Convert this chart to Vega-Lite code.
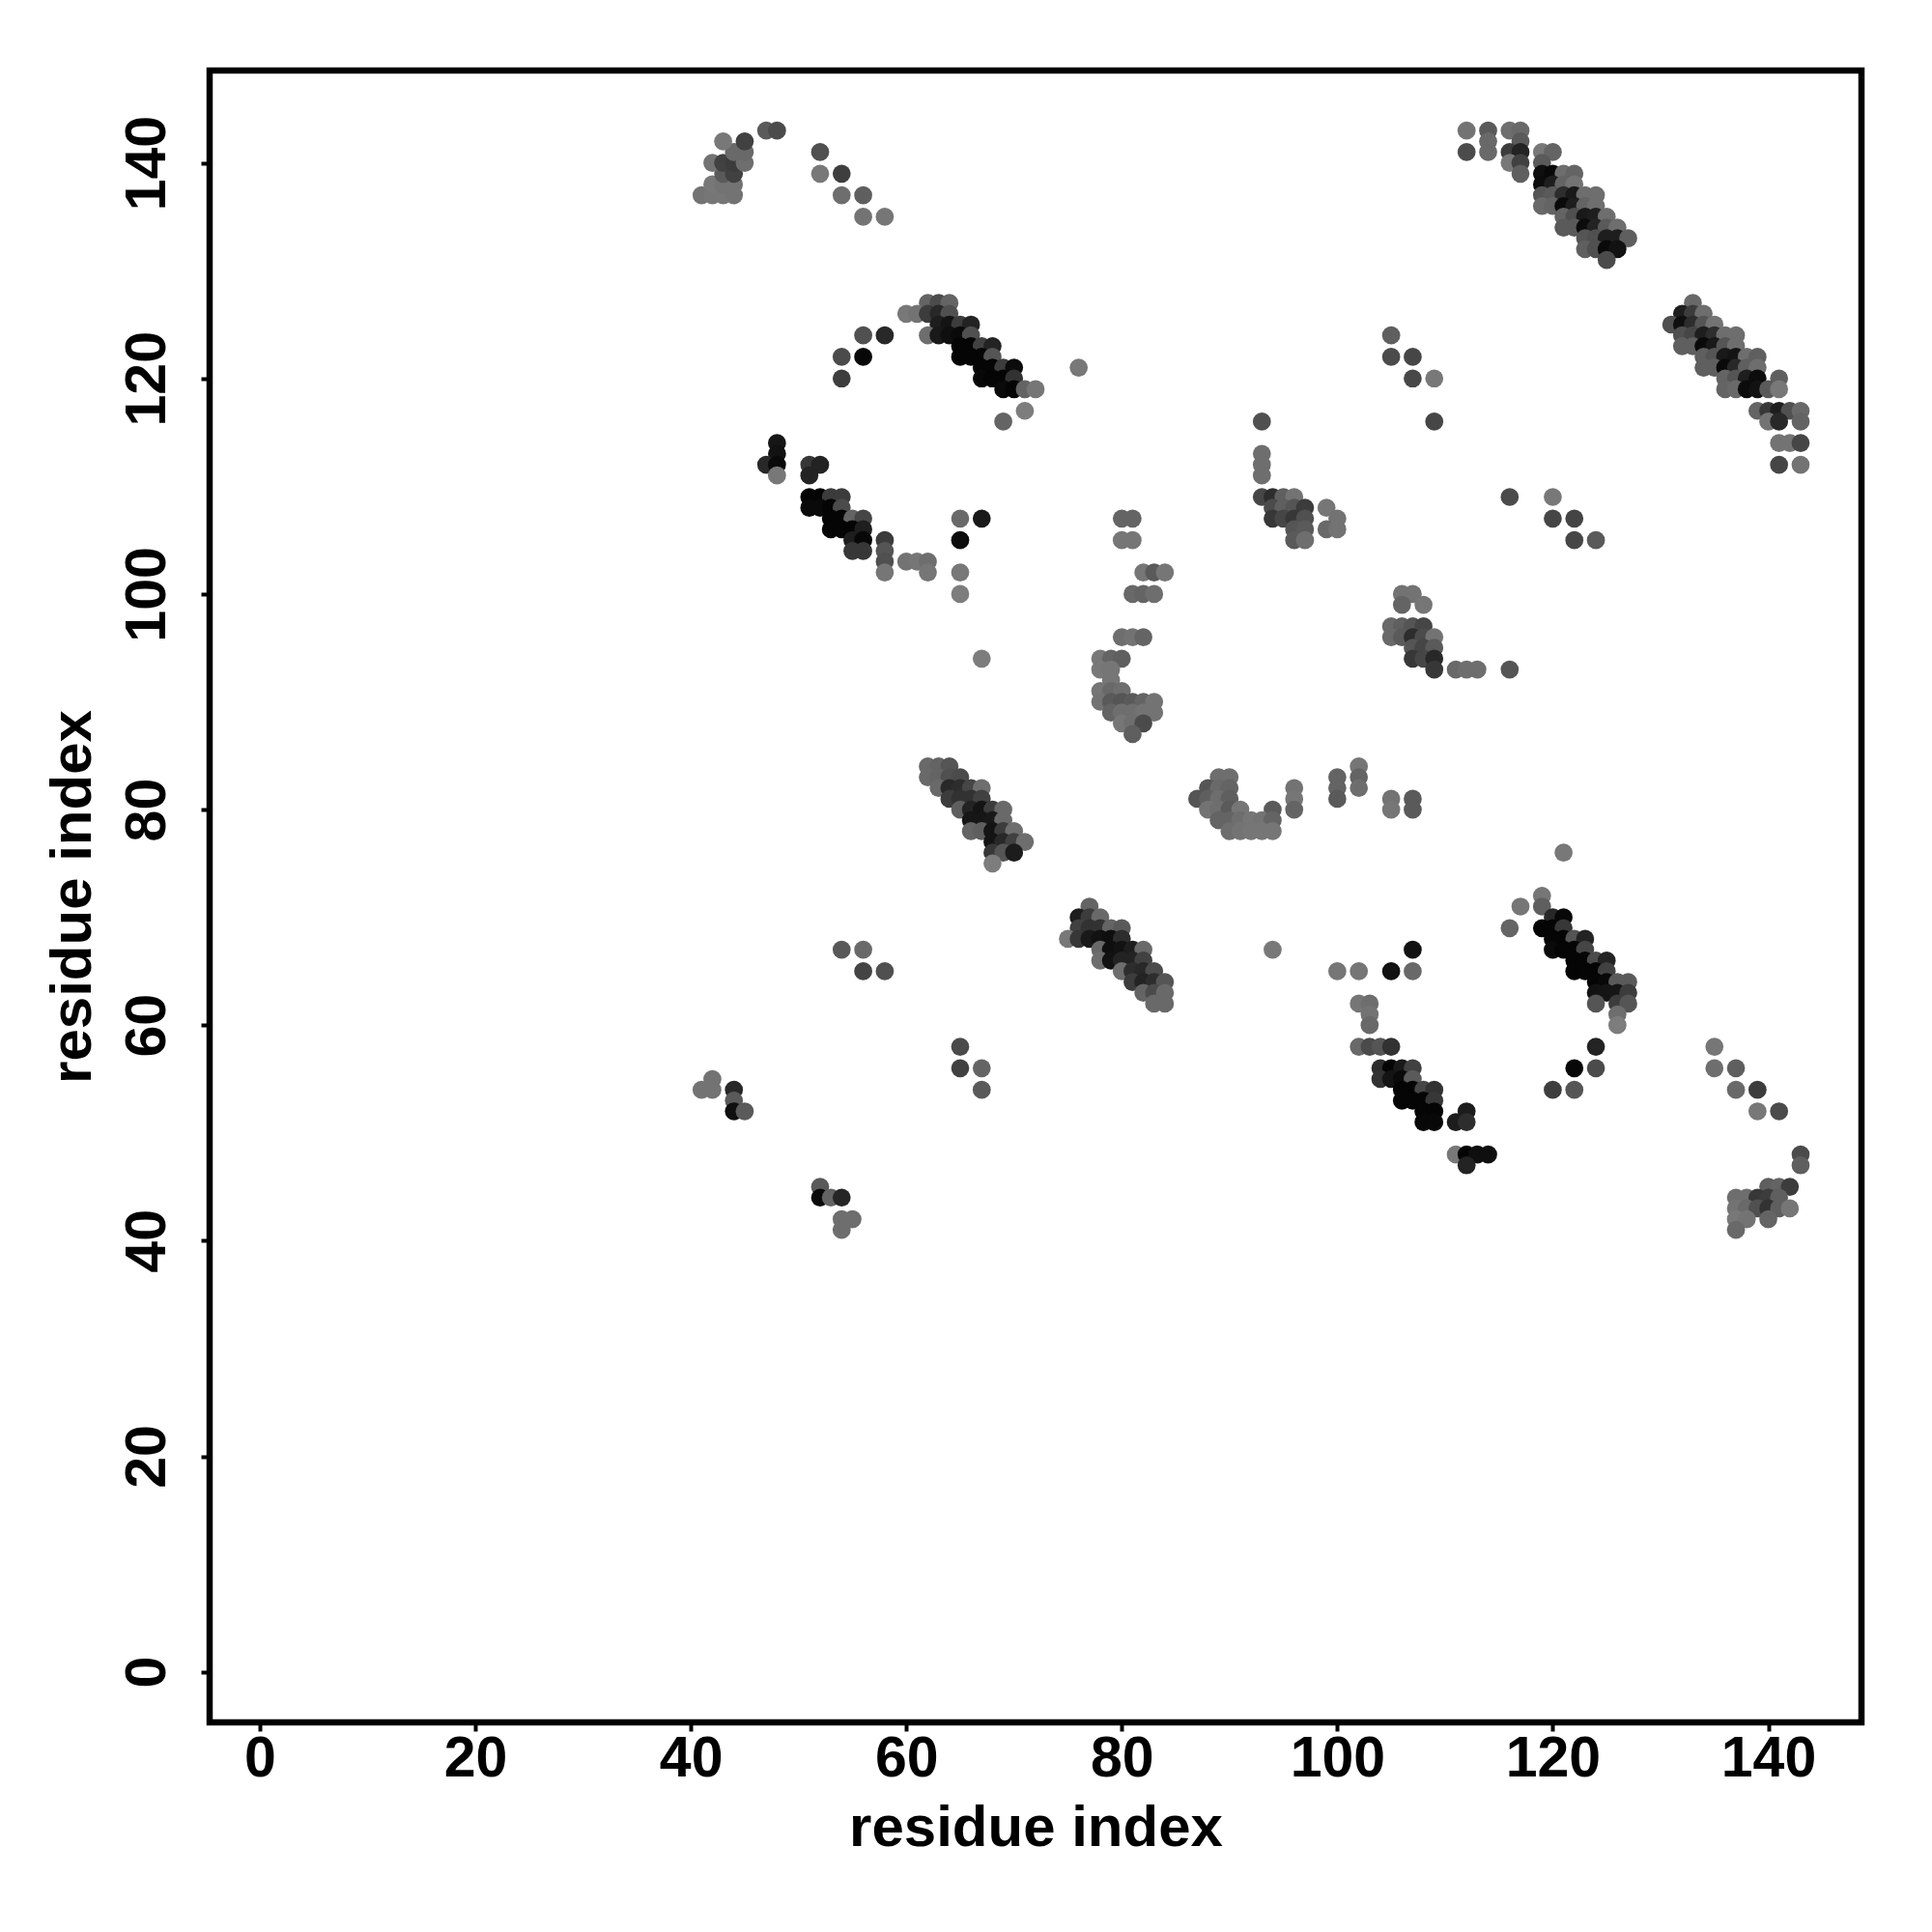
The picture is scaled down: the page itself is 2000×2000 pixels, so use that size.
{"$schema":"https://vega.github.io/schema/vega-lite/v6.json","width":1710,"height":1710,"autosize":"none","padding":{"left":217,"top":73,"right":73,"bottom":217},"background":"white","config":{"view":{"stroke":"#000","strokeWidth":6.5,"fill":"white"},"axis":{"grid":false,"domain":false,"ticks":true,"tickColor":"#000","tickWidth":4,"tickSize":9,"labelFont":"Liberation Sans","labelFontWeight":"bold","labelFontSize":59,"labelColor":"#000","titleFont":"Liberation Sans","titleFontWeight":"bold","titleFontSize":60,"titleColor":"#000"}},"data":{"values":[
{"x":41,"y":137,"g":115},{"x":42,"y":137,"g":118},{"x":43,"y":137,"g":118},{"x":44,"y":137,"g":115},{"x":42,"y":138,"g":120},{"x":43,"y":138,"g":115},{"x":44,"y":138,"g":115},{"x":43,"y":139,"g":90},{"x":44,"y":139,"g":65},{"x":42,"y":140,"g":115},{"x":43,"y":140,"g":65},{"x":44,"y":140,"g":60},{"x":45,"y":140,"g":110},{"x":44,"y":141,"g":105},{"x":45,"y":141,"g":105},{"x":43,"y":142,"g":120},{"x":45,"y":142,"g":65},{"x":47,"y":143,"g":90},{"x":48,"y":143,"g":75},{"x":52,"y":141,"g":80},{"x":52,"y":139,"g":120},{"x":54,"y":139,"g":62},{"x":54,"y":137,"g":110},{"x":56,"y":137,"g":95},{"x":56,"y":135,"g":115},{"x":58,"y":135,"g":118},
{"x":62,"y":127,"g":100},{"x":63,"y":127,"g":75},{"x":64,"y":127,"g":100},{"x":60,"y":126,"g":120},{"x":61,"y":126,"g":115},{"x":62,"y":126,"g":60},{"x":63,"y":126,"g":40},{"x":64,"y":126,"g":80},{"x":63,"y":125,"g":30},{"x":64,"y":125,"g":20},{"x":65,"y":125,"g":60},{"x":66,"y":125,"g":35},{"x":62,"y":124,"g":110},{"x":63,"y":124,"g":25},{"x":64,"y":124,"g":15},{"x":65,"y":124,"g":10},{"x":66,"y":124,"g":80},{"x":65,"y":123,"g":5},{"x":66,"y":123,"g":5},{"x":67,"y":123,"g":65},{"x":68,"y":123,"g":35},{"x":65,"y":122,"g":5},{"x":66,"y":122,"g":5},{"x":67,"y":122,"g":5},{"x":68,"y":122,"g":85},{"x":67,"y":121,"g":5},{"x":68,"y":121,"g":5},{"x":69,"y":121,"g":60},{"x":70,"y":121,"g":12},{"x":67,"y":120,"g":8},{"x":68,"y":120,"g":5},{"x":69,"y":120,"g":5},{"x":70,"y":120,"g":50},{"x":69,"y":119,"g":10},{"x":70,"y":119,"g":5},{"x":71,"y":119,"g":100},{"x":72,"y":119,"g":118},{"x":71,"y":117,"g":125},{"x":69,"y":116,"g":100},{"x":56,"y":124,"g":80},{"x":58,"y":124,"g":40},{"x":54,"y":122,"g":75},{"x":56,"y":122,"g":8},{"x":54,"y":120,"g":62},{"x":76,"y":121,"g":120},
{"x":48,"y":114,"g":22},{"x":48,"y":113,"g":18},{"x":47,"y":112,"g":40},{"x":48,"y":112,"g":10},{"x":48,"y":111,"g":120},{"x":51,"y":112,"g":55},{"x":52,"y":112,"g":35},{"x":51,"y":111,"g":35},{"x":51,"y":109,"g":5},{"x":52,"y":109,"g":5},{"x":53,"y":109,"g":60},{"x":54,"y":109,"g":60},{"x":51,"y":108,"g":10},{"x":52,"y":108,"g":10},{"x":53,"y":108,"g":5},{"x":54,"y":108,"g":75},{"x":53,"y":107,"g":5},{"x":54,"y":107,"g":5},{"x":55,"y":107,"g":100},{"x":56,"y":107,"g":70},{"x":53,"y":106,"g":5},{"x":54,"y":106,"g":5},{"x":55,"y":106,"g":5},{"x":56,"y":106,"g":30},{"x":55,"y":105,"g":30},{"x":56,"y":105,"g":8},{"x":58,"y":105,"g":60},{"x":55,"y":104,"g":55},{"x":56,"y":104,"g":55},{"x":58,"y":104,"g":85},{"x":58,"y":103,"g":80},{"x":60,"y":103,"g":115},{"x":61,"y":103,"g":118},{"x":62,"y":103,"g":110},{"x":58,"y":102,"g":118},{"x":62,"y":102,"g":118},{"x":65,"y":107,"g":105},{"x":67,"y":107,"g":25},{"x":65,"y":105,"g":12},{"x":65,"y":102,"g":120},{"x":65,"y":100,"g":125},{"x":67,"y":94,"g":125},{"x":80,"y":107,"g":100},{"x":81,"y":107,"g":100},{"x":80,"y":105,"g":118},{"x":81,"y":105,"g":118},{"x":82,"y":102,"g":118},{"x":83,"y":102,"g":90},{"x":84,"y":102,"g":118},{"x":81,"y":100,"g":105},{"x":82,"y":100,"g":100},{"x":83,"y":100,"g":110},{"x":80,"y":96,"g":110},{"x":81,"y":96,"g":115},{"x":82,"y":96,"g":100},
{"x":78,"y":94,"g":120},{"x":79,"y":94,"g":100},{"x":80,"y":94,"g":95},{"x":78,"y":93,"g":120},{"x":79,"y":93,"g":118},{"x":79,"y":92,"g":118},{"x":78,"y":91,"g":118},{"x":79,"y":91,"g":105},{"x":80,"y":91,"g":110},{"x":78,"y":90,"g":115},{"x":79,"y":90,"g":90},{"x":80,"y":90,"g":85},{"x":81,"y":90,"g":90},{"x":82,"y":90,"g":100},{"x":83,"y":90,"g":115},{"x":79,"y":89,"g":100},{"x":80,"y":89,"g":110},{"x":81,"y":89,"g":110},{"x":82,"y":89,"g":115},{"x":83,"y":89,"g":115},{"x":80,"y":88,"g":118},{"x":81,"y":88,"g":110},{"x":82,"y":88,"g":75},{"x":81,"y":87,"g":95},
{"x":62,"y":84,"g":105},{"x":63,"y":84,"g":100},{"x":64,"y":84,"g":85},{"x":62,"y":83,"g":105},{"x":63,"y":83,"g":100},{"x":64,"y":83,"g":80},{"x":65,"y":83,"g":75},{"x":63,"y":82,"g":105},{"x":64,"y":82,"g":40},{"x":65,"y":82,"g":45},{"x":66,"y":82,"g":70},{"x":67,"y":82,"g":110},{"x":64,"y":81,"g":60},{"x":65,"y":81,"g":50},{"x":66,"y":81,"g":50},{"x":67,"y":81,"g":65},{"x":65,"y":80,"g":95},{"x":66,"y":80,"g":35},{"x":67,"y":80,"g":20},{"x":68,"y":80,"g":60},{"x":69,"y":80,"g":105},{"x":66,"y":79,"g":22},{"x":67,"y":79,"g":22},{"x":68,"y":79,"g":25},{"x":69,"y":79,"g":105},{"x":66,"y":78,"g":100},{"x":67,"y":78,"g":95},{"x":68,"y":78,"g":20},{"x":69,"y":78,"g":60},{"x":70,"y":78,"g":110},{"x":68,"y":77,"g":20},{"x":69,"y":77,"g":40},{"x":70,"y":77,"g":65},{"x":71,"y":77,"g":110},{"x":68,"y":76,"g":55},{"x":69,"y":76,"g":85},{"x":70,"y":76,"g":28},{"x":68,"y":75,"g":125},
{"x":77,"y":71,"g":100},{"x":76,"y":70,"g":30},{"x":77,"y":70,"g":60},{"x":78,"y":70,"g":105},{"x":76,"y":69,"g":65},{"x":77,"y":69,"g":50},{"x":78,"y":69,"g":50},{"x":79,"y":69,"g":100},{"x":80,"y":69,"g":90},{"x":75,"y":68,"g":120},{"x":76,"y":68,"g":55},{"x":77,"y":68,"g":25},{"x":78,"y":68,"g":18},{"x":79,"y":68,"g":15},{"x":80,"y":68,"g":45},{"x":78,"y":67,"g":105},{"x":79,"y":67,"g":15},{"x":80,"y":67,"g":18},{"x":81,"y":67,"g":30},{"x":82,"y":67,"g":105},{"x":78,"y":66,"g":110},{"x":79,"y":66,"g":18},{"x":80,"y":66,"g":35},{"x":81,"y":66,"g":35},{"x":82,"y":66,"g":65},{"x":80,"y":65,"g":110},{"x":81,"y":65,"g":45},{"x":82,"y":65,"g":40},{"x":83,"y":65,"g":75},{"x":81,"y":64,"g":60},{"x":82,"y":64,"g":35},{"x":83,"y":64,"g":45},{"x":84,"y":64,"g":85},{"x":82,"y":63,"g":100},{"x":83,"y":63,"g":75},{"x":84,"y":63,"g":105},{"x":83,"y":62,"g":105},{"x":84,"y":62,"g":105},
{"x":54,"y":67,"g":88},{"x":56,"y":67,"g":105},{"x":56,"y":65,"g":68},{"x":58,"y":65,"g":80},{"x":65,"y":58,"g":75},{"x":65,"y":56,"g":65},{"x":67,"y":56,"g":100},{"x":67,"y":54,"g":90},{"x":42,"y":55,"g":115},{"x":41,"y":54,"g":115},{"x":42,"y":54,"g":115},{"x":44,"y":54,"g":40},{"x":44,"y":53,"g":90},{"x":44,"y":52,"g":15},{"x":45,"y":52,"g":90},{"x":52,"y":45,"g":90},{"x":52,"y":44,"g":10},{"x":53,"y":44,"g":100},{"x":54,"y":44,"g":38},{"x":54,"y":42,"g":110},{"x":55,"y":42,"g":110},{"x":54,"y":41,"g":110},
{"x":112,"y":143,"g":115},{"x":114,"y":143,"g":90},{"x":116,"y":143,"g":110},{"x":117,"y":143,"g":105},{"x":114,"y":142,"g":105},{"x":117,"y":142,"g":90},{"x":112,"y":141,"g":75},{"x":114,"y":141,"g":105},{"x":116,"y":141,"g":60},{"x":117,"y":141,"g":35},{"x":119,"y":141,"g":120},{"x":120,"y":141,"g":100},{"x":116,"y":140,"g":120},{"x":117,"y":140,"g":65},{"x":119,"y":140,"g":90},{"x":117,"y":139,"g":95},{"x":119,"y":139,"g":15},{"x":120,"y":139,"g":8},{"x":121,"y":139,"g":110},{"x":122,"y":139,"g":100},{"x":119,"y":138,"g":12},{"x":120,"y":138,"g":30},{"x":121,"y":138,"g":100},{"x":122,"y":138,"g":115},{"x":119,"y":137,"g":85},{"x":120,"y":137,"g":90},{"x":121,"y":137,"g":45},{"x":122,"y":137,"g":25},{"x":123,"y":137,"g":110},{"x":124,"y":137,"g":110},{"x":119,"y":136,"g":105},{"x":120,"y":136,"g":100},{"x":121,"y":136,"g":10},{"x":122,"y":136,"g":30},{"x":123,"y":136,"g":100},{"x":124,"y":136,"g":110},{"x":121,"y":135,"g":100},{"x":122,"y":135,"g":80},{"x":123,"y":135,"g":25},{"x":124,"y":135,"g":30},{"x":125,"y":135,"g":110},{"x":121,"y":134,"g":90},{"x":122,"y":134,"g":90},{"x":123,"y":134,"g":12},{"x":124,"y":134,"g":35},{"x":125,"y":134,"g":90},{"x":126,"y":134,"g":110},{"x":123,"y":133,"g":85},{"x":124,"y":133,"g":80},{"x":125,"y":133,"g":30},{"x":126,"y":133,"g":30},{"x":127,"y":133,"g":95},{"x":123,"y":132,"g":95},{"x":124,"y":132,"g":80},{"x":125,"y":132,"g":10},{"x":126,"y":132,"g":18},{"x":125,"y":131,"g":75},
{"x":133,"y":127,"g":105},{"x":132,"y":126,"g":30},{"x":133,"y":126,"g":60},{"x":134,"y":126,"g":110},{"x":131,"y":125,"g":80},{"x":132,"y":125,"g":15},{"x":133,"y":125,"g":45},{"x":134,"y":125,"g":85},{"x":135,"y":125,"g":115},{"x":132,"y":124,"g":80},{"x":133,"y":124,"g":70},{"x":134,"y":124,"g":30},{"x":135,"y":124,"g":45},{"x":136,"y":124,"g":110},{"x":137,"y":124,"g":110},{"x":132,"y":123,"g":95},{"x":133,"y":123,"g":95},{"x":134,"y":123,"g":10},{"x":135,"y":123,"g":25},{"x":136,"y":123,"g":85},{"x":137,"y":123,"g":110},{"x":134,"y":122,"g":95},{"x":135,"y":122,"g":85},{"x":136,"y":122,"g":25},{"x":137,"y":122,"g":20},{"x":138,"y":122,"g":110},{"x":139,"y":122,"g":95},{"x":134,"y":121,"g":95},{"x":135,"y":121,"g":95},{"x":136,"y":121,"g":10},{"x":137,"y":121,"g":40},{"x":138,"y":121,"g":95},{"x":139,"y":121,"g":110},{"x":136,"y":120,"g":100},{"x":137,"y":120,"g":85},{"x":138,"y":120,"g":30},{"x":139,"y":120,"g":12},{"x":141,"y":120,"g":95},{"x":136,"y":119,"g":100},{"x":137,"y":119,"g":105},{"x":138,"y":119,"g":12},{"x":139,"y":119,"g":18},{"x":140,"y":119,"g":90},{"x":141,"y":119,"g":120},{"x":139,"y":117,"g":100},{"x":140,"y":117,"g":55},{"x":141,"y":117,"g":30},{"x":142,"y":117,"g":80},{"x":143,"y":117,"g":105},{"x":140,"y":116,"g":115},{"x":141,"y":116,"g":40},{"x":143,"y":116,"g":100},{"x":141,"y":114,"g":115},{"x":142,"y":114,"g":115},{"x":143,"y":114,"g":70},{"x":141,"y":112,"g":70},{"x":143,"y":112,"g":115},
{"x":105,"y":124,"g":95},{"x":105,"y":122,"g":75},{"x":107,"y":122,"g":70},{"x":107,"y":120,"g":72},{"x":109,"y":120,"g":120},{"x":109,"y":116,"g":70},{"x":93,"y":116,"g":80},{"x":93,"y":113,"g":110},{"x":93,"y":112,"g":110},{"x":93,"y":111,"g":110},{"x":93,"y":109,"g":70},{"x":94,"y":109,"g":45},{"x":95,"y":109,"g":95},{"x":96,"y":109,"g":115},{"x":94,"y":108,"g":75},{"x":95,"y":108,"g":95},{"x":96,"y":108,"g":85},{"x":97,"y":108,"g":60},{"x":99,"y":108,"g":118},{"x":94,"y":107,"g":55},{"x":95,"y":107,"g":70},{"x":96,"y":107,"g":55},{"x":97,"y":107,"g":80},{"x":100,"y":107,"g":115},{"x":96,"y":106,"g":85},{"x":97,"y":106,"g":90},{"x":99,"y":106,"g":105},{"x":100,"y":106,"g":115},{"x":96,"y":105,"g":90},{"x":97,"y":105,"g":110},{"x":116,"y":109,"g":75},{"x":120,"y":109,"g":120},{"x":120,"y":107,"g":70},{"x":122,"y":107,"g":68},{"x":122,"y":105,"g":70},{"x":124,"y":105,"g":90},
{"x":106,"y":100,"g":115},{"x":107,"y":100,"g":115},{"x":106,"y":99,"g":100},{"x":108,"y":99,"g":118},{"x":105,"y":97,"g":105},{"x":106,"y":97,"g":95},{"x":107,"y":97,"g":85},{"x":108,"y":97,"g":70},{"x":105,"y":96,"g":105},{"x":106,"y":96,"g":90},{"x":107,"y":96,"g":45},{"x":108,"y":96,"g":75},{"x":109,"y":96,"g":115},{"x":107,"y":95,"g":85},{"x":108,"y":95,"g":70},{"x":109,"y":95,"g":90},{"x":107,"y":94,"g":55},{"x":108,"y":94,"g":70},{"x":109,"y":94,"g":40},{"x":109,"y":93,"g":55},{"x":111,"y":93,"g":105},{"x":112,"y":93,"g":110},{"x":113,"y":93,"g":110},{"x":116,"y":93,"g":85},
{"x":89,"y":83,"g":110},{"x":90,"y":83,"g":110},{"x":88,"y":82,"g":85},{"x":89,"y":82,"g":105},{"x":90,"y":82,"g":100},{"x":87,"y":81,"g":85},{"x":88,"y":81,"g":95},{"x":89,"y":81,"g":110},{"x":90,"y":81,"g":95},{"x":88,"y":80,"g":115},{"x":89,"y":80,"g":110},{"x":90,"y":80,"g":90},{"x":91,"y":80,"g":118},{"x":94,"y":80,"g":90},{"x":89,"y":79,"g":100},{"x":90,"y":79,"g":100},{"x":91,"y":79,"g":110},{"x":92,"y":79,"g":118},{"x":93,"y":79,"g":115},{"x":94,"y":79,"g":100},{"x":90,"y":78,"g":110},{"x":91,"y":78,"g":115},{"x":92,"y":78,"g":118},{"x":93,"y":78,"g":118},{"x":94,"y":78,"g":118},{"x":96,"y":82,"g":115},{"x":96,"y":81,"g":118},{"x":96,"y":80,"g":100},{"x":100,"y":83,"g":100},{"x":100,"y":82,"g":100},{"x":100,"y":81,"g":90},{"x":102,"y":84,"g":118},{"x":102,"y":83,"g":100},{"x":102,"y":82,"g":110},{"x":105,"y":81,"g":115},{"x":105,"y":80,"g":118},{"x":107,"y":81,"g":90},{"x":107,"y":80,"g":90},{"x":121,"y":76,"g":120},{"x":119,"y":72,"g":118},{"x":119,"y":71,"g":95},{"x":117,"y":71,"g":118},{"x":116,"y":69,"g":100},
{"x":120,"y":70,"g":40},{"x":121,"y":70,"g":8},{"x":119,"y":69,"g":5},{"x":120,"y":69,"g":5},{"x":121,"y":69,"g":55},{"x":120,"y":68,"g":5},{"x":121,"y":68,"g":5},{"x":122,"y":68,"g":85},{"x":123,"y":68,"g":35},{"x":120,"y":67,"g":10},{"x":121,"y":67,"g":5},{"x":122,"y":67,"g":5},{"x":123,"y":67,"g":70},{"x":122,"y":66,"g":5},{"x":123,"y":66,"g":5},{"x":124,"y":66,"g":75},{"x":125,"y":66,"g":35},{"x":122,"y":65,"g":5},{"x":123,"y":65,"g":5},{"x":124,"y":65,"g":5},{"x":125,"y":65,"g":65},{"x":124,"y":64,"g":5},{"x":125,"y":64,"g":8},{"x":126,"y":64,"g":90},{"x":127,"y":64,"g":90},{"x":124,"y":63,"g":18},{"x":125,"y":63,"g":20},{"x":126,"y":63,"g":22},{"x":127,"y":63,"g":60},{"x":124,"y":62,"g":85},{"x":126,"y":62,"g":60},{"x":127,"y":62,"g":85},{"x":126,"y":61,"g":110},{"x":126,"y":60,"g":125},{"x":124,"y":58,"g":35},{"x":122,"y":56,"g":8},{"x":124,"y":56,"g":75},{"x":120,"y":54,"g":62},{"x":122,"y":54,"g":85},{"x":94,"y":67,"g":120},{"x":100,"y":65,"g":118},{"x":102,"y":65,"g":118},{"x":105,"y":65,"g":18},{"x":107,"y":65,"g":105},{"x":107,"y":67,"g":18},
{"x":102,"y":62,"g":118},{"x":103,"y":62,"g":110},{"x":103,"y":61,"g":115},{"x":103,"y":60,"g":105},{"x":102,"y":58,"g":105},{"x":103,"y":58,"g":75},{"x":104,"y":58,"g":85},{"x":105,"y":58,"g":50},{"x":104,"y":56,"g":45},{"x":105,"y":56,"g":5},{"x":106,"y":56,"g":25},{"x":107,"y":56,"g":65},{"x":104,"y":55,"g":50},{"x":105,"y":55,"g":20},{"x":106,"y":55,"g":10},{"x":107,"y":55,"g":90},{"x":106,"y":54,"g":5},{"x":107,"y":54,"g":5},{"x":108,"y":54,"g":70},{"x":109,"y":54,"g":50},{"x":106,"y":53,"g":5},{"x":107,"y":53,"g":5},{"x":108,"y":53,"g":5},{"x":109,"y":53,"g":55},{"x":108,"y":52,"g":5},{"x":109,"y":52,"g":5},{"x":112,"y":52,"g":28},{"x":108,"y":51,"g":8},{"x":109,"y":51,"g":8},{"x":111,"y":51,"g":28},{"x":112,"y":51,"g":45},{"x":111,"y":48,"g":120},{"x":112,"y":48,"g":5},{"x":113,"y":48,"g":15},{"x":114,"y":48,"g":15},{"x":112,"y":47,"g":35},
{"x":135,"y":58,"g":118},{"x":135,"y":56,"g":110},{"x":137,"y":56,"g":95},{"x":137,"y":54,"g":105},{"x":139,"y":54,"g":60},{"x":139,"y":52,"g":120},{"x":141,"y":52,"g":75},{"x":143,"y":48,"g":75},{"x":143,"y":47,"g":95},{"x":140,"y":45,"g":95},{"x":141,"y":45,"g":100},{"x":142,"y":45,"g":60},{"x":137,"y":44,"g":110},{"x":138,"y":44,"g":110},{"x":139,"y":44,"g":55},{"x":140,"y":44,"g":60},{"x":141,"y":44,"g":95},{"x":137,"y":43,"g":115},{"x":138,"y":43,"g":105},{"x":139,"y":43,"g":80},{"x":140,"y":43,"g":50},{"x":141,"y":43,"g":95},{"x":142,"y":43,"g":118},{"x":137,"y":42,"g":120},{"x":138,"y":42,"g":115},{"x":140,"y":42,"g":100},{"x":137,"y":41,"g":105}
]},"mark":{"type":"point","shape":"circle","filled":true,"opacity":1,"size":350},"encoding":{"x":{"field":"x","type":"quantitative","scale":{"domain":[-4.66,148.65],"nice":false,"zero":false},"axis":{"values":[0,20,40,60,80,100,120,140],"title":"residue index","labelPadding":-1,"titlePadding":13,"labelFlush":false,"labelOverlap":false}},"y":{"field":"y","type":"quantitative","scale":{"domain":[-4.69,148.57],"nice":false,"zero":false},"axis":{"values":[0,20,40,60,80,100,120,140],"title":"residue index","labelAngle":-90,"labelAlign":"center","labelBaseline":"bottom","labelPadding":26,"titlePadding":17,"labelOverlap":false}},"color":{"field":"g","type":"quantitative","legend":null,"scale":{"domain":[0,255],"range":["#000000","#ffffff"],"interpolate":"rgb"}},"order":[{"field":"x","type":"quantitative"},{"field":"y","type":"quantitative"}]}}
